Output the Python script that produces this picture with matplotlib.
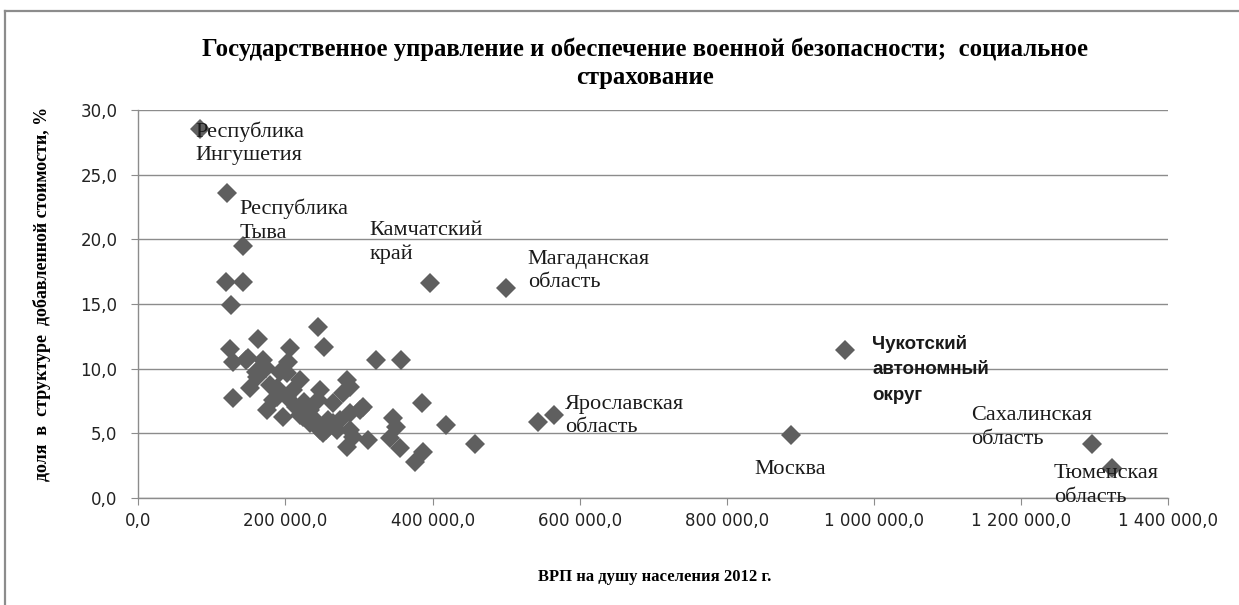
import matplotlib
matplotlib.use("Agg")
import matplotlib.pyplot as plt
from matplotlib.ticker import FuncFormatter, MultipleLocator
from matplotlib.lines import Line2D

# ---- data (GRP per capita 2012, share in value added %) ----
grp = [83.8e3, 120.8e3, 142.6e3, 119.1e3, 142.6e3, 125.9e3, 396e3, 500e3,
       961e3, 887e3, 1296e3, 1323e3, 543.5e3, 565e3,
       244.4e3, 252.6e3, 163e3, 124.5e3, 206e3, 322.7e3, 357.6e3, 129e3,
       149.4e3, 169.7e3, 203.7e3, 201.5e3, 160.8e3, 151.7e3, 129e3, 178.8e3,
       187.9e3, 174.3e3, 196.9e3, 215e3, 224e3, 246.7e3, 244.4e3, 283e3,
       287.4e3, 278.4e3, 264.8e3, 233e3, 255.8e3, 246.7e3, 287.4e3, 292e3,
       283e3, 312.3e3, 305.5e3, 346.2e3, 350.9e3, 341.8e3, 355.3e3, 375.7e3,
       387e3, 386.2e3, 417.8e3, 457.2e3, 187.9e3, 210.5e3, 192.4e3, 183.3e3,
       201.5e3, 233.1e3, 239.9e3, 264.8e3, 273.9e3, 287.4e3, 301e3, 146.2e3,
       219.6e3, 159.8e3, 173.4e3, 219.6e3, 251.2e3, 269.4e3, 225e3, 258e3]
share = [28.5, 23.6, 19.5, 16.7, 16.7, 14.9, 16.6, 16.2,
         11.45, 4.85, 4.2, 2.3, 5.9, 6.4,
         13.25, 11.7, 12.27, 11.5, 11.62, 10.67, 10.67, 10.54,
         10.8, 10.67, 10.54, 9.64, 9.38, 8.48, 7.71, 8.74,
         7.83, 6.8, 6.29, 7.06, 6.29, 8.35, 7.58, 9.13,
         8.61, 8.1, 7.32, 5.78, 5.26, 5.26, 5.26, 4.74,
         3.97, 4.49, 7.06, 6.16, 5.51, 4.62, 3.84, 2.81,
         3.58, 7.32, 5.65, 4.15, 8.48, 8.35, 9.77, 7.58,
         7.83, 6.81, 6.03, 5.78, 6.03, 6.55, 6.81, 10.67,
         6.42, 9.74, 10.05, 9.13, 5.0, 5.26, 7.4, 6.0]

labels = ["Республика\nИнгушетия", "Республика\nТыва", "Камчатский\nкрай",
          "Магаданская\nобласть", "Ярославская\nобласть", "Москва",
          "Чукотский\nавтономный\nокруг", "Сахалинская\nобласть", "Тюменская\nобласть"]
label_idx = [0, 2, 6, 7, 13, 9, 8, 10, 11]

title = ("Государственное управление и обеспечение военной безопасности;  социальное\n"
         "страхование")
xlabel = "ВРП на душу населения 2012 г."
ylabel = "доля  в  структуре  добавленной стоимости, %"

W, H, DPI = 1239, 605, 100
fig = plt.figure(figsize=(W / DPI, H / DPI), dpi=DPI)
fig.patch.set_facecolor("white")

# outer frame (top and left edges visible)
fr = dict(transform=fig.transFigure, color="#8c8c8c", linewidth=1.6)
fig.add_artist(Line2D([5 / W, 1.0], [1 - 11 / H, 1 - 11 / H], **fr))
fig.add_artist(Line2D([5 / W, 5 / W], [0, 1 - 11 / H], **fr))

L, R, T, B = 138.3, 1168.3, 110, 498
ax = fig.add_axes([L / W, 1 - B / H, (R - L) / W, (B - T) / H])
ax.set_xlim(0, 1400000)
ax.set_ylim(0, 30)
ax.xaxis.set_major_locator(MultipleLocator(200000))
ax.yaxis.set_major_locator(MultipleLocator(5))


def fmt(v, pos):
    return f"{v:,.1f}".replace(",", " ").replace(".", ",")


ax.xaxis.set_major_formatter(FuncFormatter(fmt))
ax.yaxis.set_major_formatter(FuncFormatter(fmt))
ax.grid(axis="y", color="#8c8c8c", linewidth=1.0)
ax.set_axisbelow(True)
for s in ["top", "right"]:
    ax.spines[s].set_visible(False)
for s in ["left", "bottom"]:
    ax.spines[s].set_color("#8c8c8c")
    ax.spines[s].set_linewidth(1.0)
ax.tick_params(axis="both", direction="out", length=5, color="#8c8c8c",
               labelsize=12, labelcolor="#222222")
ax.tick_params(axis="y", pad=10)
ax.tick_params(axis="x", pad=5)
for lab in ax.get_xticklabels() + ax.get_yticklabels():
    lab.set_family("DejaVu Sans")

ax.plot(grp, share, linestyle="none", marker="D", markersize=10.5,
        color="#5f5f5f", markeredgewidth=0, zorder=3)

offsets = [(-5, 14), (-4, -25), (-60, -41), (21.6, -17.3), (11, 0.7),
           (-1, 34), (27, 19.5), (-121, -16), (-58, 17)]
for text, i, (dx, dy) in zip(labels, label_idx, offsets):
    bold = text.startswith("Чукотский")
    ha = "center" if text == "Москва" else "left"
    ax.annotate(text, xy=(grp[i], share[i]), xytext=(dx * 0.72, -dy * 0.72),
                textcoords="offset points", ha=ha, va="center",
                fontsize=13.5 if bold else 16, linespacing=1.68 if bold else 1.33,
                family="Liberation Sans" if bold else "Liberation Serif",
                fontweight="bold" if bold else "normal", color="#1a1a1a",
                zorder=4, annotation_clip=False)

fig.text(645 / W, 1 - 63 / H, title, ha="center", va="center", fontsize=17.8,
         family="Liberation Serif", fontweight="bold", linespacing=1.3)
fig.text(655 / W, 1 - 577 / H, xlabel, ha="center", va="center", fontsize=12,
         family="Liberation Serif", fontweight="bold")
fig.text(42 / W, 1 - 294 / H, ylabel, ha="center", va="center", fontsize=13,
         family="Liberation Serif", fontweight="bold", rotation=90)

fig.savefig("out.png", dpi=DPI, facecolor="white")
